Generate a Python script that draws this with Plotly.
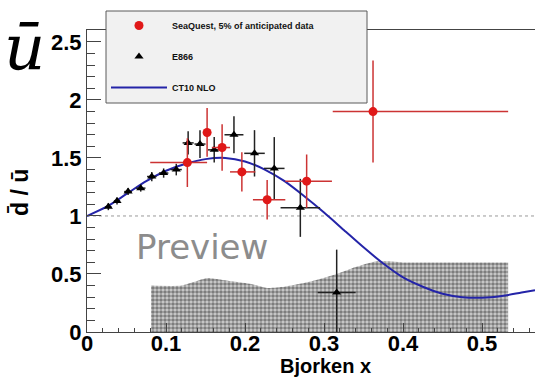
import plotly.graph_objects as go

# ---- data ----
sq_x = [0.127, 0.152, 0.171, 0.196, 0.228, 0.278, 0.362]
sq_y = [1.46, 1.72, 1.59, 1.38, 1.14, 1.30, 1.90]
sq_yerr = [0.21, 0.21, 0.20, 0.17, 0.17, 0.23, 0.44]
sq_xerr_minus = [0.047, 0.005, 0.013, 0.015, 0.018, 0.027, 0.051]
sq_xerr_plus = [0.025, 0.005, 0.010, 0.017, 0.023, 0.032, 0.171]

e866_x = [0.027, 0.038, 0.052, 0.068, 0.082, 0.097, 0.113, 0.128, 0.143, 0.161, 0.186, 0.212, 0.237, 0.270, 0.316]
e866_y = [1.08, 1.13, 1.21, 1.24, 1.34, 1.37, 1.40, 1.63, 1.62, 1.57, 1.70, 1.54, 1.41, 1.07, 0.34]
e866_yerr = [0.03, 0.03, 0.03, 0.03, 0.04, 0.04, 0.05, 0.10, 0.12, 0.11, 0.16, 0.20, 0.27, 0.25, 0.37]
e866_xerr = [0.004, 0.004, 0.005, 0.006, 0.006, 0.006, 0.007, 0.007, 0.007, 0.008, 0.012, 0.013, 0.013, 0.025, 0.024]

ct10_x = [0, 0.025, 0.05, 0.075, 0.1, 0.125, 0.15, 0.175, 0.2, 0.225, 0.25, 0.275, 0.3, 0.325,
          0.35, 0.375, 0.4, 0.425, 0.45, 0.475, 0.5, 0.525, 0.55, 0.567]
ct10_y = [1.0, 1.08, 1.19, 1.30, 1.39, 1.45, 1.49, 1.50, 1.47, 1.40, 1.30, 1.17, 1.03, 0.88,
          0.73, 0.59, 0.47, 0.39, 0.33, 0.30, 0.295, 0.31, 0.34, 0.36]

sys_x = [0.081, 0.12, 0.135, 0.152, 0.17, 0.19, 0.21, 0.228, 0.25, 0.28, 0.316, 0.34, 0.367, 0.40, 0.45, 0.50, 0.533]
sys_y = [0.40, 0.40, 0.43, 0.465, 0.45, 0.43, 0.41, 0.38, 0.39, 0.43, 0.50, 0.56, 0.61, 0.60, 0.60, 0.60, 0.60]

x_ticks = [0, 0.1, 0.2, 0.3, 0.4, 0.5]
x_ticklabels = ["0", "0.1", "0.2", "0.3", "0.4", "0.5"]
y_ticks = [0, 0.5, 1, 1.5, 2, 2.5]
y_ticklabels = ["0", "0.5", "1", "1.5", "2", "2.5"]

FONT = "Liberation Sans"
L, T, W, H = 87, 30, 448, 302


def px(xp):
    return (xp - L) / W


def py(yp):
    return (T + H - yp) / H


fig = go.Figure()

# systematic band (hatched)
fig.add_trace(go.Scatter(
    x=sys_x, y=sys_y, mode="lines", fill="tozeroy",
    line=dict(width=0, color="rgba(0,0,0,0)", shape="spline", smoothing=0.6),
    fillcolor="#6e6e6e",
    fillpattern=dict(shape=".", size=4, solidity=0.65, fgcolor="#2a2a2a", bgcolor="#d0d0d0"),
    showlegend=False, hoverinfo="skip"))

# dotted line at 1
fig.add_shape(type="line", xref="paper", yref="y", x0=0, x1=1, y0=1, y1=1,
              line=dict(color="#9a9a9a", width=1, dash="dot"), layer="below")

fig.add_trace(go.Scatter(
    x=ct10_x, y=ct10_y, mode="lines", name="<b>CT10 NLO</b>",
    line=dict(color="#2424a8", width=2, shape="spline", smoothing=0.8),
    legendgroup="c", legendrank=3))

fig.add_trace(go.Scatter(
    x=e866_x, y=e866_y, mode="markers", name="<b>E866</b>",
    marker=dict(symbol="triangle-up", size=8, color="black"),
    error_y=dict(type="data", array=e866_yerr, color="#222222", thickness=1.5, width=0),
    error_x=dict(type="data", array=e866_xerr, color="#222222", thickness=1.5, width=0),
    legendgroup="b", legendrank=2))

fig.add_trace(go.Scatter(
    x=sq_x, y=sq_y, mode="markers", name="<b>SeaQuest, 5% of anticipated data</b>",
    marker=dict(symbol="circle", size=9, color="#e01818"),
    error_y=dict(type="data", array=sq_yerr, color="#cc3333", thickness=1.5, width=0),
    error_x=dict(type="data", array=sq_xerr_plus, arrayminus=sq_xerr_minus, symmetric=False,
                 color="#cc3333", thickness=1.5, width=0),
    legendgroup="a", legendrank=1))

# legend box
fig.add_shape(type="rect", xref="paper", yref="paper", x0=px(106), x1=px(367), y0=py(103), y1=py(11),
              fillcolor="#f1f1f1", line=dict(color="#5a5a5a", width=1), layer="above")

# Preview watermark
fig.add_annotation(text="Preview", xref="paper", yref="paper",
                   x=px(202), y=py(247), xanchor="center", yanchor="middle", showarrow=False,
                   font=dict(family="DejaVu Sans", size=34, color="#8c8c8c"))

# y title
fig.add_annotation(text="<b>d\u0304 / u\u0304</b>", xref="paper", yref="paper",
                   x=px(20), y=py(193), xanchor="center", yanchor="middle",
                   showarrow=False, textangle=-90,
                   font=dict(family=FONT, size=23, color="black"))

# x title
fig.add_annotation(text="<b>Bjorken x</b>", xref="paper", yref="paper",
                   x=px(325), y=py(366), xanchor="center", yanchor="middle", showarrow=False,
                   font=dict(family=FONT, size=20, color="black"))

# big symbol at top left
fig.add_annotation(text="<i>\u016b</i>", xref="paper", yref="paper",
                   x=px(24), y=py(48), xanchor="center", yanchor="middle", showarrow=False,
                   font=dict(family="DejaVu Serif", size=64, color="black"))

fig.update_layout(
    width=535, height=378,
    margin=dict(l=L, r=0, t=T, b=378 - T - H),
    paper_bgcolor="white", plot_bgcolor="white",
    showlegend=True,
    legend=dict(x=px(106), y=py(11), xanchor="left", yanchor="top",
                bgcolor="rgba(0,0,0,0)", borderwidth=0,
                font=dict(family=FONT, size=9, color="#111111"),
                itemwidth=56, tracegroupgap=12, traceorder="grouped"),
    xaxis=dict(range=[0, 0.567], tickmode="array", tickvals=x_ticks,
               ticktext=["<b>%s</b>" % t for t in x_ticklabels],
               ticks="inside", ticklen=9, tickcolor="#444", tickwidth=1,
               ticklabelstandoff=-8,
               minor=dict(dtick=0.02, ticks="inside", ticklen=4, tickcolor="#444"),
               showline=True, linecolor="#444", linewidth=1, mirror=True,
               showgrid=False, zeroline=False,
               tickfont=dict(family=FONT, size=22, color="black")),
    yaxis=dict(range=[0, 2.603], tickmode="array", tickvals=y_ticks,
               ticktext=["<b>%s</b>" % t for t in y_ticklabels],
               ticks="inside", ticklen=14, tickcolor="#444", tickwidth=1,
               minor=dict(dtick=0.1, ticks="inside", ticklen=8, tickcolor="#444"),
               showline=True, linecolor="#444", linewidth=1,
               showgrid=False, zeroline=False,
               tickfont=dict(family=FONT, size=22, color="black")),
)

fig.write_html("out.html")
